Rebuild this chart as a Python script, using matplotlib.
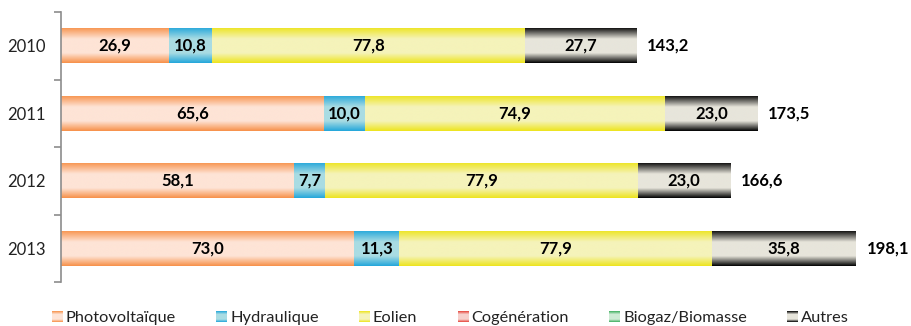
import matplotlib
matplotlib.use("Agg")
import matplotlib.pyplot as plt
import numpy as np
from matplotlib.colors import LinearSegmentedColormap
from matplotlib.legend_handler import HandlerBase
from matplotlib.patches import Rectangle

years = ["2010", "2011", "2012", "2013"]
series_names = ["Photovoltaïque", "Hydraulique", "Eolien", "Cogénération", "Biogaz/Biomasse", "Autres"]
photovoltaique = [26.9, 65.6, 58.1, 73.0]
hydraulique = [10.8, 10.0, 7.7, 11.3]
eolien = [77.8, 74.9, 77.9, 77.9]
cogeneration = [0.0, 0.0, 0.0, 0.0]
biogaz = [0.0, 0.0, 0.0, 0.0]
autres = [27.7, 23.0, 23.0, 35.8]
totals = [143.2, 173.5, 166.6, 198.1]

series = [photovoltaique, hydraulique, eolien, cogeneration, biogaz, autres]
edge_cols = ["#F79048", "#22A6DA", "#EDE41C", "#E5443A", "#3DAE5E", "#000000"]
mid_cols = ["#FEE4D6", "#A9DCE3", "#F5F3BA", "#F6D0CC", "#CDEBD4", "#E7E5DB"]

FONT = "Lato"
plt.rcParams["font.family"] = [FONT, "DejaVu Sans"]

fig = plt.figure(figsize=(9.12, 3.26), dpi=100)
ax = fig.add_axes([61/912, 1-282/326, (905-61)/912, (282-12)/326])

def make_cmap(e, m):
    return LinearSegmentedColormap.from_list("g", [(0, e), (0.33, m), (0.72, m), (1, e)])

grad = np.linspace(0, 1, 256).reshape(-1, 1)
y = np.arange(len(years))
left = np.zeros(len(years))
h = 0.52
for vals, e, m in zip(series, edge_cols, mid_cols):
    bars = ax.barh(y, vals, left=left, height=h, color="none", edgecolor="none")
    cmap = make_cmap(e, m)
    for b, v, l, yy in zip(bars, vals, left, y):
        if v <= 0:
            continue
        im = ax.imshow(grad, cmap=cmap, aspect="auto", interpolation="bilinear",
                       extent=[l, l + v, yy + h/2, yy - h/2], origin="upper", zorder=1)
        im.set_clip_path(b)
        ax.text(l + v/2, yy, f"{v:.1f}".replace(".", ","), ha="center", va="center",
                fontsize=12, fontweight="bold", color="black", zorder=3)
    left = left + np.array(vals)

for yy, t in zip(y, totals):
    ax.text(t + 2.6, yy, f"{t:.1f}".replace(".", ","), ha="left", va="center",
            fontsize=12, fontweight="bold", color="black")

ax.set_xlim(0, 210.2)
ax.set_ylim(3.5, -0.5)
ax.set_yticks(y)
ax.set_yticklabels(years, fontsize=12, color="#222222")
ax.tick_params(axis="y", which="major", length=0, pad=11)
ax.set_yticks([-0.5, 0.5, 1.5, 2.5, 3.5], minor=True)
ax.tick_params(axis="y", which="minor", length=5, width=1.2, color="#8C8C8C")
ax.set_xticks([])
for s in ["top", "right", "bottom"]:
    ax.spines[s].set_visible(False)
ax.spines["left"].set_color("#8C8C8C")
ax.spines["left"].set_linewidth(1.2)

class GradHandler(HandlerBase):
    def __init__(self, e, m):
        super().__init__()
        self.e, self.m = e, m
    def create_artists(self, legend, orig_handle, xdescent, ydescent, width, height, fontsize, trans):
        cmap = make_cmap(self.e, self.m)
        n = 10
        arts = []
        for i in range(n):
            c = cmap((i + 0.5) / n)
            r = Rectangle((-xdescent, -ydescent + height * (n - 1 - i) / n), width, height / n,
                          facecolor=c, edgecolor="none", transform=trans)
            arts.append(r)
        return arts

handles = [Rectangle((0, 0), 1, 1) for _ in series_names]
hmap = {hd: GradHandler(e, m) for hd, e, m in zip(handles, edge_cols, mid_cols)}
leg = fig.legend(handles, series_names, handler_map=hmap, loc="center left",
                 bbox_to_anchor=(52/912, 1-318/326), ncol=6, frameon=False,
                 fontsize=11.8, handlelength=0.67, handleheight=0.67, handletextpad=0.18,
                 columnspacing=2.45, borderaxespad=0, borderpad=0)
for t in leg.get_texts():
    t.set_color("#222222")

fig.savefig("out.png", dpi=100)
